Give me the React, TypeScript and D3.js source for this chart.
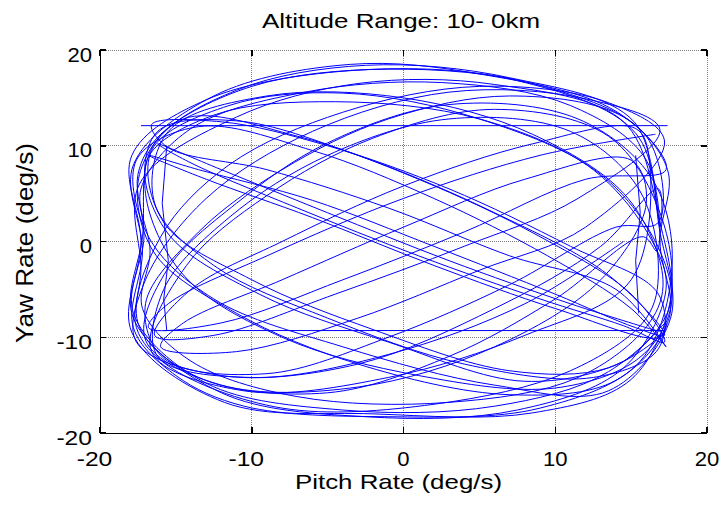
import React from "react";
import * as d3 from "d3";

// Pitch / yaw rate trajectory [pitch, yaw] in deg/s, one array per loop of the path
const loop01: [number, number][] = [[16.6, 11.2], [9, 9], [0, 4.5], [-9, -1.5], [-15.5, -6.5], [-16.8, -9], [-12, -8.5], [-4, -4], [4, 1], [12, 6.5]];
const loop02: [number, number][] = [[17.3, 7.5], [14.5, 13], [7, 15.2], [-1, 12.8], [-8, 7.5], [-13.5, 1], [-17, -6.5], [-15.8, -12.2], [-9, -13.8], [-1, -10], [7, -4.5], [14, 1.5]];
const loop03: [number, number][] = [[16.8, 2], [16, 11], [9, 16.3], [-1, 18], [-10, 16.2], [-16, 11.2], [-17.5, 7], [-17.1, 0.5], [-17.8, -7.5], [-13, -14.8], [-4, -17.6], [6, -17.2], [13.5, -13.6], [17.5, -7]];
const loop04: [number, number][] = [[16.9, -1], [13, 7], [5, 12.8], [-4, 15.5], [-11.5, 14.2], [-16.6, 9.5], [-15.8, 2], [-10, -4], [-2, -9.2], [7, -13.5], [13.5, -13.2], [17, -9.5]];
const loop05: [number, number][] = [[16.4, -9.2], [11, -6.5], [3, -2], [-5, 3], [-12, 7.5], [-16.2, 10.2], [-14, 8.2], [-7, 3.5], [1, -1.5], [9, -6], [14.5, -8.8]];
const loop06: [number, number][] = [[17.2, -10.5], [15, -5.5], [9, 0.5], [1, 6.5], [-7, 11], [-14.5, 12.8], [-17.4, 7], [-16.5, -1], [-11, -7.5], [-3, -12.8], [7, -16], [14, -14.5]];
const loop07: [number, number][] = [[17.5, -8], [16.9, 0], [17.4, 7.5], [14, 13.6], [5, 17.5], [-3.5, 18.5], [-12.5, 15.2], [-17.8, 8], [-17.2, -1], [-17.8, -9], [-15, -14], [-10.5, -17.2], [-1, -18.3], [9, -17.4], [15.6, -12.5]];
const loop08: [number, number][] = [[17.7, -2.5], [16.4, 6.5], [11.5, 12.8], [3, 14.3], [-5, 10.3], [-11, 4], [-15.6, -3], [-17, -10.3], [-12, -15], [-3, -15.2], [6, -11], [13, -4]];
const loop09: [number, number][] = [[16, 4], [15, 8.5], [8, 6.5], [0, 1.5], [-8, -4], [-14.5, -8.5], [-16, -11], [-11, -11.5], [-3, -8], [5, -3], [12, 1.5]];
const loop10: [number, number][] = [[17.2, 10.5], [13.5, 14.5], [5, 16.2], [-4, 13.5], [-11.5, 8], [-16, 0.5], [-17.5, -8.5], [-13.5, -14.2], [-5, -15.8], [3, -12], [10, -6], [15.8, 0.5]];
const loop11: [number, number][] = [[16.7, -1], [16, 8.5], [11, 14.2], [2.5, 16.6], [-6.5, 15.6], [-14, 11.8], [-17.3, 5.5], [-16.7, -1], [-17.2, -7], [-14, -12.5], [-7, -16.2], [3, -16.8], [11.5, -14.2], [16.2, -8.5]];
const loop12: [number, number][] = [[17.1, -4], [14.8, 4.5], [8.5, 11.2], [0, 15], [-9, 15.2], [-15.5, 11.5], [-16.4, 4], [-12.5, -2.5], [-5, -8], [4, -12.8], [12.5, -14.2], [16.8, -11.2]];
const loop13: [number, number][] = [[16.8, -5.5], [11, -0.5], [3, 5.5], [-5, 10], [-12, 12.5], [-16.6, 12.2], [-15.5, 9.8], [-9, 7.5], [-1, 3.5], [7, -1.5], [14, -5]];
const loop14: [number, number][] = [[17.3, -11], [15, -7], [9.5, -1.5], [2, 4.5], [-6, 9.5], [-13.5, 12], [-17.6, 8.5], [-16.8, 0.5], [-12.5, -6], [-4, -11], [6, -15], [13.5, -15.6]];
const loop15: [number, number][] = [[17.6, -8], [16.9, 1], [15.3, 11.3], [7.5, 16.8], [-3, 17.9], [-13, 14.8], [-17.9, 9], [-17.3, 0], [-17.9, -9.5], [-11.8, -16.8], [-2, -18], [8.5, -17.9], [15, -14.4]];
const loop16: [number, number][] = [[17.6, -6], [16.9, 3], [13.5, 11], [6, 13.8], [-2, 10.8], [-9, 4.8], [-14.3, -2.5], [-16.6, -11.5], [-10.5, -15.6], [-1, -14.2], [8, -9.8], [15, -4]];
const loop17: [number, number][] = [[16.2, 8.5], [15.3, 11.8], [8.5, 10.2], [0, 5.8], [-8, 0], [-14, -5], [-16.4, -9.8], [-12.5, -9.8], [-4.5, -5.5], [4, -0.5], [11.5, 4.5]];
const loop18: [number, number][] = [[16.9, 11.7], [12, 14.9], [3, 15.6], [-6, 11.5], [-13, 4.5], [-17, -4], [-17.6, -10.5], [-12, -14], [-3, -12.8], [6, -7], [13, -0.5], [16.8, 5.5]];
const loop19: [number, number][] = [[16.9, 1.5], [15.2, 12.5], [7, 17.1], [-2.5, 18.4], [-11, 15.8], [-16.5, 10], [-17.2, 0.5], [-17.8, -8], [-12, -15.8], [-2.5, -18.3], [7.5, -17.6], [14.5, -13.2], [17.3, -5]];
const loop20: [number, number][] = [[16.4, 0], [12.5, 7.5], [5, 12.8], [-4.5, 14.6], [-12.5, 13.2], [-16.9, 8.5], [-15.6, 1], [-9.5, -5.5], [-1, -10.5], [8, -14.6], [14.5, -12.5], [17.3, -8.5]];
const loop21: [number, number][] = [[16.9, -10], [10, -7], [2, -2.5], [-6, 2.5], [-13, 6.5], [-16.8, 9], [-13.5, 7.5], [-6, 4.3], [2, -0.5], [10, -5.5], [15.3, -9]];
const loop22: [number, number][] = [[17.2, -9.8], [13.5, -3.5], [6, 3], [-3, 9], [-11, 12.6], [-16.2, 11.5], [-17, 5], [-14.5, -3.5], [-8, -10], [1, -14], [10, -15.3], [15.5, -12.2]];
const loop23: [number, number][] = [[17.6, -7], [16.9, 2], [14.5, 12.5], [6, 16.4], [-3, 16.5], [-11, 13], [-17.4, 6], [-17.3, -3], [-17.6, -9], [-15.5, -13], [-8, -17.4], [2, -17], [11, -13.5], [16, -8]];
const loop24: [number, number][] = [[16.8, -3], [15.5, 5.5], [11, 11.5], [3, 12.8], [-5, 9], [-11.5, 2.5], [-15.8, -5], [-16.2, -12], [-10, -14.2], [-1, -11.8], [8, -6.5], [14.5, 0]];

// straight stretches of the record (rate held / samples joined)
const holdTop: [number, number][] = [[-17.3, 12.1], [17.4, 12.1]];
const holdBottom: [number, number][] = [[-15.8, -9.3], [17.2, -9.3]];
const holdLeft: [number, number][] = [[-15.6, 10], [-15.9, 4], [-15.5, -2], [-15.8, -6], [-15.6, -9.3]];
const holdRight: [number, number][] = [[15.3, 9], [15.6, 3], [15.3, -2], [15.5, -7.5]];

const xTicks = [-20, -10, 0, 10, 20];
const yTicks = [-20, -10, 0, 10, 20];

const title = "Altitude Range: 10- 0km";
const xLabel = "Pitch Rate (deg/s)";
const yLabel = "Yaw Rate (deg/s)";

const W = 722;
const H = 508;
const left = 100, right = 707, top = 50, bottom = 433;

export default function App() {
  const x = d3.scaleLinear().domain([-20, 20]).range([left, right]);
  const y = d3.scaleLinear().domain([-20, 20]).range([bottom, top]);

  const trajectory = [
    loop01, loop02, loop03, loop04, loop05, loop06, loop07, loop08,
    loop09, loop10, loop11, loop12, loop13, loop14, loop15, loop16,
    loop17, loop18, loop19, loop20, loop21, loop22, loop23, loop24,
  ].flat();

  const smooth = d3
    .line<[number, number]>()
    .x((d) => x(d[0]))
    .y((d) => y(d[1]))
    .curve(d3.curveCatmullRom.alpha(0.5));
  const straight = d3
    .line<[number, number]>()
    .x((d) => x(d[0]))
    .y((d) => y(d[1]));

  const font = "Arial, 'Liberation Sans', sans-serif";
  const digitW = 12.3;

  return (
    <svg
      width={W}
      height={H}
      style={{ position: "absolute", left: 0, top: 0, background: "#fff" }}
    >
      {/* grid, including the top and right edges */}
      <g stroke="#808080" strokeWidth={1} strokeDasharray="1,1" shapeRendering="crispEdges">
        {[-10, 0, 10, 20].map((t) => (
          <line key={"gx" + t} x1={x(t)} x2={x(t)} y1={top} y2={bottom} />
        ))}
        {[-10, 0, 10, 20].map((t) => (
          <line key={"gy" + t} x1={left} x2={right} y1={y(t)} y2={y(t)} />
        ))}
      </g>

      {/* trajectory */}
      <g fill="none" stroke="#0000ff" strokeWidth={1} strokeLinejoin="round">
        <path d={smooth(trajectory) || ""} />
        <path d={straight(holdTop) || ""} />
        <path d={straight(holdBottom) || ""} />
        <path d={straight(holdLeft) || ""} />
        <path d={straight(holdRight) || ""} />
      </g>

      {/* axes */}
      <g stroke="#000" strokeWidth={1} shapeRendering="crispEdges">
        <line x1={left} x2={left} y1={top} y2={bottom} />
        <line x1={left} x2={right} y1={bottom} y2={bottom} />
        {xTicks.map((t) => (
          <g key={"tx" + t}>
            <line x1={x(t)} x2={x(t)} y1={bottom} y2={bottom - 6} strokeWidth={1.5} />
            <line x1={x(t)} x2={x(t)} y1={top} y2={top + 6} strokeWidth={1.5} />
          </g>
        ))}
        {yTicks.map((t) => (
          <g key={"ty" + t}>
            <line x1={left} x2={left + 6} y1={y(t)} y2={y(t)} strokeWidth={1.5} />
            <line x1={right} x2={right - 6} y1={y(t)} y2={y(t)} strokeWidth={1.5} />
          </g>
        ))}
      </g>

      {/* tick labels */}
      <g fontFamily={font} fontSize={21} fill="#000">
        {xTicks.map((t) => {
          const s = String(t);
          const digits = s.replace("-", "").length;
          return (
            <text
              key={"lx" + t}
              x={x(t) + (digits * digitW) / 2}
              y={466}
              textAnchor="end"
              textLength={digits * digitW + (t < 0 ? 11 : 0)}
              lengthAdjust="spacingAndGlyphs"
            >
              {s}
            </text>
          );
        })}
        {yTicks.map((t) => {
          const s = String(t);
          const digits = s.replace("-", "").length;
          return (
            <text
              key={"ly" + t}
              x={92}
              y={y(t) + 11.5}
              textAnchor="end"
              textLength={digits * digitW + (t < 0 ? 11 : 0)}
              lengthAdjust="spacingAndGlyphs"
            >
              {s}
            </text>
          );
        })}
      </g>

      {/* title and axis labels */}
      <text
        x={401}
        y={28}
        textAnchor="middle"
        fontFamily={font}
        fontSize={21}
        textLength={278}
        lengthAdjust="spacingAndGlyphs"
      >
        {title}
      </text>
      <text
        x={398.5}
        y={489}
        textAnchor="middle"
        fontFamily={font}
        fontSize={21}
        textLength={207}
        lengthAdjust="spacingAndGlyphs"
      >
        {xLabel}
      </text>
      <text
        transform={`translate(33,243) rotate(-90)`}
        textAnchor="middle"
        fontFamily={font}
        fontSize={24}
        textLength={200}
        lengthAdjust="spacingAndGlyphs"
      >
        {yLabel}
      </text>
    </svg>
  );
}
